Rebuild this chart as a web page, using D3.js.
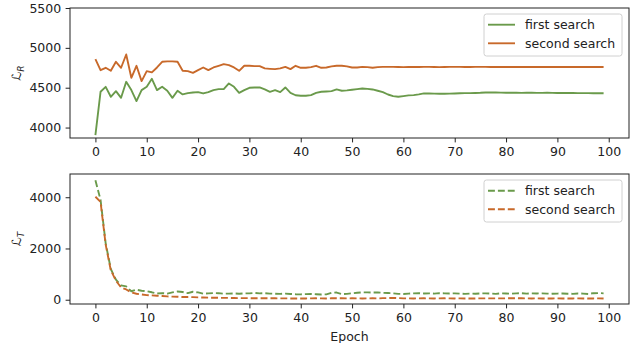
<!DOCTYPE html>
<html>
<head>
<meta charset="utf-8">
<script src="https://cdn.jsdelivr.net/npm/d3@7"></script>
<style>
  html, body { margin: 0; padding: 0; background: #fff; }
  svg { display: block; }
  text { font-family: "DejaVu Sans", sans-serif; }
</style>
</head>
<body>
<svg id="chart" width="639" height="343"></svg>
<script>
// ---------- data ----------
const epochs = d3.range(0, 100);
const seriesNames = ["first search", "second search"];
const xTicks = [0, 10, 20, 30, 40, 50, 60, 70, 80, 90, 100];
const topYTicks = [4000, 4500, 5000, 5500];
const bottomYTicks = [0, 2000, 4000];

const firstSearchR = [3906,4449,4511,4386,4457,4373,4574,4470,4332,4470,4511,4612,4470,4511,4461,4373,4461,4416,4432,4440,
  4445,4428,4445,4470,4482,4482,4553,4511,4436,4470,4499,4503,4503,4478,4449,4470,4445,4503,4436,4405,
  4399,4399,4407,4436,4449,4453,4457,4478,4462,4466,4474,4482,4490,4486,4478,4462,4445,4415,4395,4386,
  4395,4403,4407,4416,4428,4428,4425,4424,4424,4426,4428,4430,4432,4432,4434,4436,4440,4441,4440,4438,
  4437,4436,4436,4435,4436,4436,4435,4435,4436,4435,4434,4434,4433,4433,4432,4432,4432,4431,4431,4430];
const secondSearchR = [4858,4720,4750,4712,4825,4750,4917,4624,4775,4583,4708,4692,4754,4825,4830,4830,4825,4712,4708,4687,
  4720,4754,4720,4754,4775,4796,4783,4754,4712,4775,4775,4771,4771,4742,4737,4733,4742,4762,4733,4775,
  4750,4750,4758,4775,4750,4754,4767,4775,4775,4767,4754,4754,4762,4758,4750,4758,4762,4762,4762,4760,
  4758,4760,4762,4760,4761,4762,4760,4758,4760,4761,4762,4761,4760,4760,4761,4762,4762,4760,4760,4761,
  4760,4760,4761,4760,4760,4760,4761,4760,4760,4760,4760,4761,4760,4760,4760,4760,4761,4760,4760,4760];
const firstSearchT = [4660,3900,2200,1200,780,560,520,330,390,350,330,290,240,260,240,285,320,300,260,310,
  285,235,250,260,255,235,240,245,235,245,250,265,250,255,240,235,230,240,225,215,
  210,220,225,215,205,210,270,280,220,230,250,270,285,285,280,285,270,260,250,230,
  225,240,250,255,245,250,240,255,250,245,250,235,230,240,235,245,250,240,230,250,
  245,235,250,255,240,250,245,250,240,235,240,245,235,230,245,240,225,255,260,250];
const secondSearchT = [4020,3820,2150,1150,740,480,400,285,233,207,181,168,155,143,130,120,117,104,104,100,
  91,85,80,78,75,72,70,65,62,60,60,58,60,58,55,55,52,52,50,50,
  48,50,52,55,52,50,55,58,55,52,55,52,50,52,55,52,60,65,70,62,
  55,52,50,52,55,52,50,52,55,52,50,52,50,48,50,52,55,52,50,52,
  55,58,60,55,52,50,52,50,48,50,52,50,48,50,52,50,48,50,52,50];

const colors = ["#6a9a4b", "#c8692a"];

// ---------- layout ----------
const svg = d3.select("#chart");
const left = 70, right = 629;
const panels = [
  { top: 8, bottom: 138, domain: [3869, 5500], ticks: topYTicks, data: [firstSearchR, secondSearchR],
    dash: null, label: "R", legendY: 14 },
  { top: 174, bottom: 304, domain: [-167, 4907], ticks: bottomYTicks, data: [firstSearchT, secondSearchT],
    dash: "6.9,3", label: "T", legendY: 180 }
];

const x = d3.scaleLinear().domain([-4.95, 103.95]).range([left, right]);
const fs = 12.5;
const lw = 1.875;

panels.forEach((p, pi) => {
  const y = d3.scaleLinear().domain(p.domain).range([p.bottom, p.top]);
  const g = svg.append("g");

  // clip
  const clipId = "clip" + pi;
  svg.append("clipPath").attr("id", clipId).append("rect")
    .attr("x", left).attr("y", p.top).attr("width", right - left).attr("height", p.bottom - p.top);

  // lines
  const line = d3.line().x((d, i) => x(epochs[i])).y(d => y(d));
  p.data.forEach((arr, si) => {
    g.append("path").datum(arr)
      .attr("clip-path", `url(#${clipId})`)
      .attr("d", line)
      .attr("fill", "none")
      .attr("stroke", colors[si])
      .attr("stroke-width", lw)
      .attr("stroke-linejoin", "round")
      .attr("stroke-dasharray", p.dash);
  });

  // axes
  const xAxis = d3.axisBottom(x).tickValues(xTicks).tickSize(4.4).tickPadding(4.4).tickFormat(d3.format("d"));
  const gx = g.append("g").attr("transform", `translate(0,${p.bottom})`).call(xAxis);
  const yAxis = d3.axisLeft(y).tickValues(p.ticks).tickSize(4.4).tickPadding(4.4).tickFormat(d3.format("d"));
  const gy = g.append("g").attr("transform", `translate(${left},0)`).call(yAxis);
  [gx, gy].forEach(a => {
    a.select(".domain").remove();
    a.selectAll(".tick line").attr("stroke", "#222").attr("stroke-width", 1);
    a.selectAll(".tick text").attr("fill", "#222").style("font-size", fs + "px")
      .style("font-family", "DejaVu Sans, sans-serif");
  });

  // frame
  g.append("rect").attr("x", left).attr("y", p.top)
    .attr("width", right - left).attr("height", p.bottom - p.top)
    .attr("fill", "none").attr("stroke", "#222").attr("stroke-width", 1);

  // y label
  const cy = (p.top + p.bottom) / 2;
  const yl = g.append("text")
    .attr("transform", `translate(21,${cy}) rotate(-90)`)
    .attr("text-anchor", "middle")
    .attr("fill", "#222")
    .style("font-size", fs + "px");
  yl.append("tspan").text("ℒ");
  yl.append("tspan").attr("dy", 3).style("font-size", "9px").style("font-style", "italic").text(p.label);

  // legend
  const lx = 484, lwid = 138, lh = 42;
  const lg = g.append("g");
  lg.append("rect").attr("x", lx).attr("y", p.legendY).attr("width", lwid).attr("height", lh)
    .attr("rx", 2.5).attr("fill", "#fff").attr("fill-opacity", 0.8)
    .attr("stroke", "#d0d0d0").attr("stroke-width", 1);
  seriesNames.forEach((name, si) => {
    const ly = p.legendY + 10.7 + si * 18.6;
    lg.append("line").attr("x1", 488).attr("x2", 515).attr("y1", ly).attr("y2", ly)
      .attr("stroke", colors[si]).attr("stroke-width", lw).attr("stroke-dasharray", p.dash);
    lg.append("text").attr("x", 525).attr("y", ly).attr("dy", "0.35em")
      .attr("fill", "#222").style("font-size", fs + "px").text(name);
  });
});

// x label
svg.append("text").attr("x", (left + right) / 2).attr("y", 341)
  .attr("text-anchor", "middle").attr("fill", "#222").style("font-size", fs + "px").text("Epoch");
</script>
</body>
</html>
